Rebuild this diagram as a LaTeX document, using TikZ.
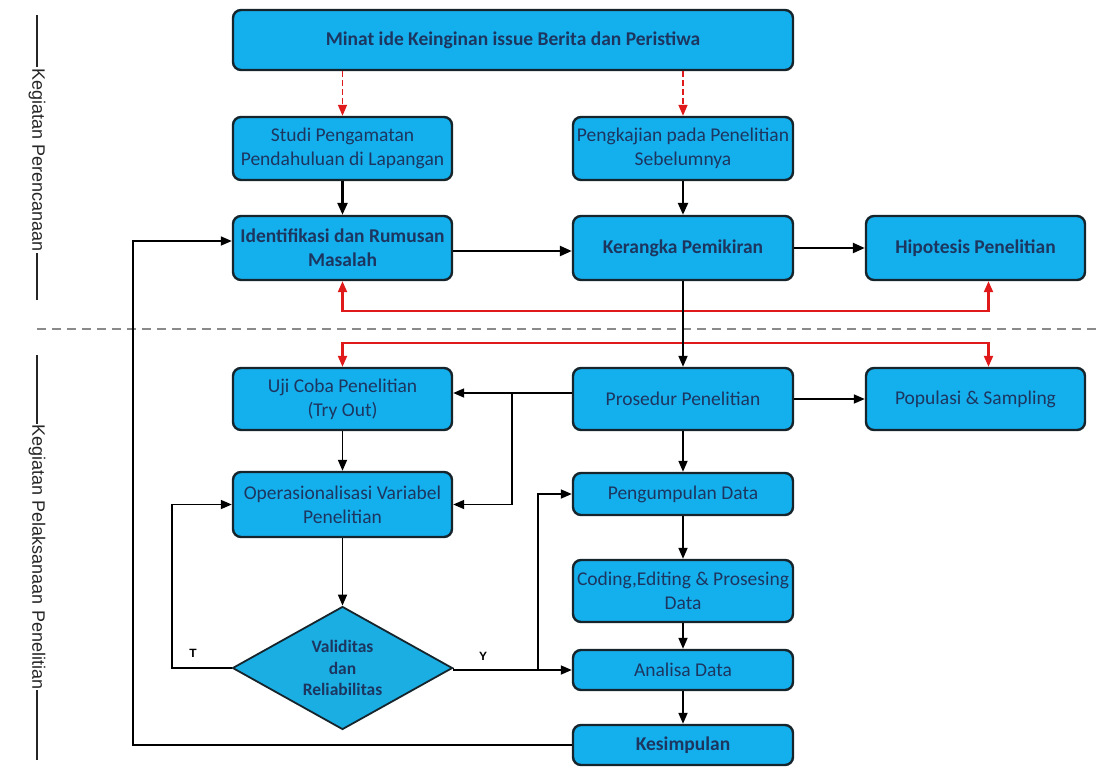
\documentclass[tikz,border=0pt]{standalone}
\usepackage{fontspec}
\setmainfont{Carlito}
\newfontfamily\arialfont{Liberation Sans}
\usetikzlibrary{arrows.meta,shapes.geometric}
\definecolor{boxfill}{HTML}{14B0EE}
\definecolor{diafill}{HTML}{1AAEE3}
\definecolor{boxline}{HTML}{16242C}
\definecolor{boxtext}{HTML}{1C3660}
\definecolor{redc}{HTML}{E01A1A}
\definecolor{dashc}{HTML}{8A8A8A}
\tikzset{
  box/.style={draw=boxline, line width=2.4pt, fill=boxfill, rounded corners=8pt,
    minimum width=219pt, minimum height=63pt, align=center, text=boxtext,
    font=\fontsize{19.5}{24}\selectfont, inner sep=1pt},
  bbox/.style={box, font=\fontsize{19.5}{24}\selectfont\bfseries},
  dia/.style={diamond, draw=boxline, line width=1.8pt, fill=diafill, aspect=1.78,
    inner sep=0pt, minimum width=220pt, minimum height=123pt, align=center,
    text=boxtext, font=\fontsize{17.5}{21.5}\selectfont\bfseries},
  thick arr/.style={draw=black, line width=2.4pt, -{Triangle[length=12pt,width=10pt]}},
  thin arr/.style={draw=black, line width=1.7pt, -{Triangle[length=11pt,width=9pt]}},
  thin line/.style={draw=black, line width=1.7pt},
  red dash/.style={draw=redc, line width=1.5pt, dash pattern=on 6pt off 3pt, -{Triangle[length=11pt,width=9pt]}},
  red arr/.style={draw=redc, line width=2.2pt, {Triangle[length=11pt,width=9pt]}-{Triangle[length=11pt,width=9pt]}},
  side label/.style={rotate=-90, fill=white, inner sep=1pt, font=\arialfont\fontsize{18}{20}\selectfont, text=black!85},
  yt label/.style={font=\arialfont\fontsize{12}{13}\selectfont\bfseries, text=black},
}
\begin{document}
\begin{tikzpicture}[x=1pt,y=-1pt]
\useasboundingbox (0,0) rectangle (1098,769);
\fill[white] (0,0) rectangle (1098,769);

% side labels
\draw[line width=1.4pt, black!85] (37,15) -- (37,300);
\node[side label] (lab1) at (37,160) {Kegiatan Perencanaan};
\draw[line width=1.4pt, black!85] (37,355) -- (37,760);
\node[side label] (lab2) at (37,557) {Kegiatan Pelaksanaan Penelitian};

% dashed separator
\draw[dashc, line width=2pt, dash pattern=on 9pt off 6pt] (37,329) -- (1098,329);

% boxes
\node[bbox, minimum width=560pt, minimum height=60pt] (top) at (513,40) {Minat ide Keinginan issue Berita dan Peristiwa};
\node[box] (studi) at (342.5,148.5) {Studi Pengamatan\\Pendahuluan di Lapangan};
\node[box, minimum width=220pt] (kaji) at (683,148.5) {Pengkajian pada Penelitian\\Sebelumnya};
\node[bbox, minimum height=64pt] (ident) at (342.5,248) {Identifikasi dan Rumusan\\Masalah};
\node[bbox, minimum width=220pt, minimum height=64pt] (kerangka) at (683,248) {Kerangka Pemikiran};
\node[bbox, minimum height=64pt] (hipo) at (975.5,248) {Hipotesis Penelitian};
\node[box, minimum height=62pt] (uji) at (342.5,399) {Uji Coba Penelitian\\(Try Out)};
\node[box, minimum width=220pt, minimum height=62pt] (prosedur) at (683,399) {Prosedur Penelitian};
\node[box, minimum height=62pt] (populasi) at (975.5,399) {Populasi \& Sampling};
\node[box, minimum height=65pt] (oper) at (342.5,504.5) {Operasionalisasi Variabel\\Penelitian};
\node[box, minimum width=220pt, minimum height=42pt] (kumpul) at (683,494) {Pengumpulan Data};
\node[box, minimum width=220pt, minimum height=62pt] (coding) at (683,591) {Coding,Editing \& Prosesing\\Data};
\node[box, minimum width=220pt, minimum height=40pt] (analisa) at (683,670) {Analisa Data};
\node[bbox, minimum width=220pt, minimum height=40pt] (simpul) at (683,745) {Kesimpulan};
\node[dia] (valid) at (342.5,668) {Validitas\\dan\\Reliabilitas};

% red dashed from top
\draw[red dash] (studi.north |- top.south) -- (studi.north);
\draw[red dash] (kaji.north |- top.south) -- (kaji.north);

% red feedback lines
\coordinate (ru) at (0,311);
\coordinate (rl) at (0,343);
\draw[red arr] (ident.south) -- (ident.south |- ru) -| ([xshift=13pt]hipo.south);
\draw[red arr] (uji.north) -- (uji.north |- rl) -| ([xshift=13pt]populasi.north);

% planning arrows
\draw[thick arr] (studi) -- (ident);
\draw[thick arr] (kaji) -- (kerangka);
\draw[thick arr] (ident.east |- 0,251) -- (kerangka.west |- 0,251);
\draw[thick arr] (kerangka) -- (hipo);
\draw[thin arr] (kerangka.south) -- (prosedur.north);

% execution arrows
\coordinate (pj) at (512,393);
\draw[thin arr] (prosedur.west |- pj) -- (uji.east |- pj);
\draw[thin arr] (pj) |- (oper.east);
\draw[thin arr] (prosedur) -- (populasi);
\draw[thin arr] (uji) -- (oper);
\draw[thin arr] (oper) -- (valid);
\draw[thin arr] (prosedur) -- (kumpul);
\draw[thin arr] (kumpul) -- (coding);
\draw[thin arr] (coding) -- (analisa);
\draw[thin arr] (analisa) -- (simpul);

% T branch
\coordinate (tx) at (172,0);
\draw[thin arr] (valid.west) -- (valid.west -| tx) |- (oper.west);
\node[yt label] (tlab) at (193,653) {T};

% Y branch
\coordinate (yj) at (538,670);
\draw[thin line] (valid.east) -- (valid.east |- yj) -- (yj);
\draw[thin arr] (yj) -- (analisa.west);
\draw[thin arr] (yj) |- (kumpul.west);
\node[yt label] (ylab) at (483,656) {Y};

% conclusion feedback
\coordinate (kx) at (133,0);
\draw[thin arr] (simpul.west) -- (simpul.west -| kx) |- (ident.west |- 0,241);
\end{tikzpicture}
\end{document}
